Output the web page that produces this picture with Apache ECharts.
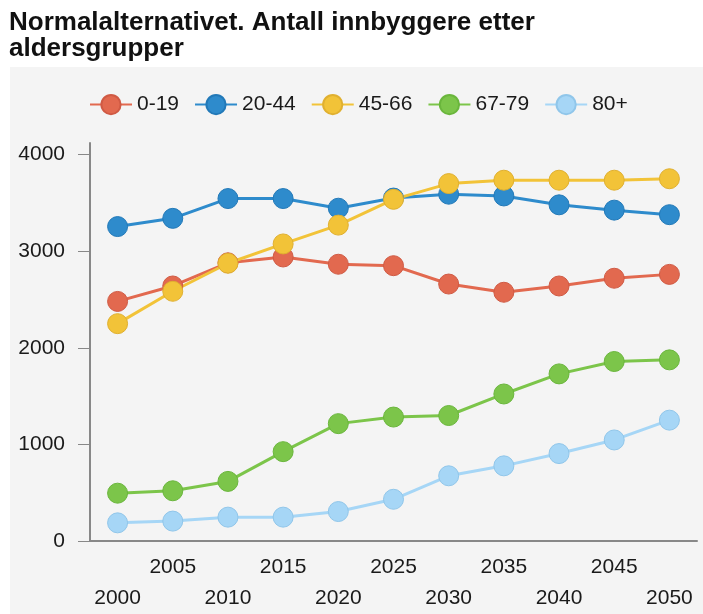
<!DOCTYPE html>
<html>
<head>
<meta charset="utf-8">
<script src="https://cdn.jsdelivr.net/npm/echarts@6/dist/echarts.min.js"></script>
<style>html,body{margin:0;padding:0;background:#fff}#c{width:703px;height:614px}</style>
</head>
<body>
<div id="c"></div>
<script>
var titleText = 'Normalalternativet. Antall innbyggere etter\naldersgrupper';
var years = ['2000','2005','2010','2015','2020','2025','2030','2035','2040','2045','2050'];
var seriesNames = ['0-19','20-44','45-66','67-79','80+'];
var age0_19  = [2480, 2640, 2880, 2940, 2865, 2850, 2660, 2575, 2640, 2720, 2760];
var age20_44 = [3255, 3340, 3545, 3545, 3445, 3550, 3590, 3572, 3480, 3425, 3378];
var age45_66 = [2250, 2585, 2875, 3075, 3270, 3537, 3700, 3735, 3735, 3735, 3750];
var age67_79 = [495, 520, 617, 925, 1215, 1283, 1299, 1522, 1730, 1858, 1875];
var age80    = [188, 206, 247, 247, 305, 432, 675, 778, 905, 1046, 1251];
var yTicks = [0, 1000, 2000, 3000, 4000];

var colors = ['#e2694f','#2e8bcc','#f2c338','#7cc54a','#a6d6f6'];
var borders = ['#d05a44','#2279b8','#e0b030','#6ab63c','#90c6ea'];
var allData = [age0_19, age20_44, age45_66, age67_79, age80];

var chart = echarts.init(document.getElementById('c'));
var font = '"Liberation Sans", Arial, sans-serif';
var series = seriesNames.map(function (n, i) {
  return {
    name: n, type: 'line', data: allData[i],
    symbol: 'circle', symbolSize: 20,
    lineStyle: { color: colors[i], width: 3 },
    itemStyle: { color: colors[i], borderColor: borders[i], borderWidth: 1 },
    emphasis: { disabled: true }
  };
});
chart.setOption({
  animation: false,
  color: colors,
  graphic: [{ type: 'rect', z: -10, shape: { x: 10, y: 67, width: 700, height: 560 }, style: { fill: '#f4f4f4' } }],
  title: { text: titleText, left: 4, top: 5,
    textStyle: { fontFamily: font, fontSize: 26, fontWeight: 'bold', color: '#111', lineHeight: 26 } },
  legend: { left: 84, top: 89, itemWidth: 42, itemHeight: 24, itemGap: 15,
    lineStyle: { width: 2 },
    textStyle: { fontFamily: font, fontSize: 21, color: '#1a1a1a' },
    data: seriesNames },
  grid: { left: 90, right: 6, top: 143, bottom: 70 },
  xAxis: { type: 'category', data: years, boundaryGap: true,
    axisLine: { lineStyle: { color: '#888', width: 2 } },
    axisTick: { alignWithLabel: true, length: 6, lineStyle: { color: '#888' } },
    axisLabel: { interval: 0, margin: 11, fontFamily: font, fontSize: 21, color: '#1a1a1a', lineHeight: 31,
      formatter: function (v, idx) { return idx % 2 === 0 ? '\n' + v : v; } } },
  yAxis: { type: 'value', min: 0, max: 4120,
    splitLine: { show: false },
    axisLine: { show: true, lineStyle: { color: '#888', width: 2 } },
    axisTick: { show: true, length: 12, lineStyle: { color: '#888' }, customValues: yTicks },
    axisLabel: { margin: 25, fontFamily: font, fontSize: 21, color: '#1a1a1a', customValues: yTicks,
      formatter: function (v) { return String(v); } } },
  series: series
});
</script>
</body>
</html>
